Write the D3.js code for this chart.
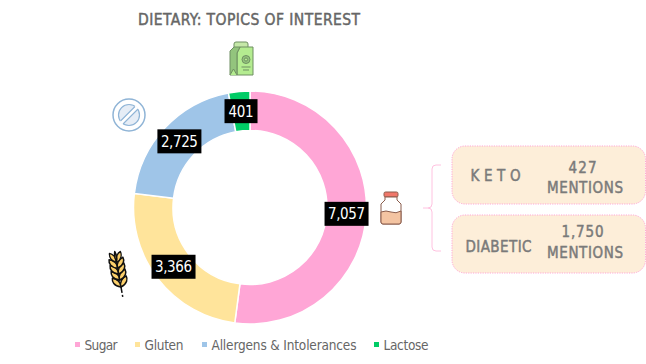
<!DOCTYPE html>
<html><head><meta charset="utf-8">
<script src="https://cdn.jsdelivr.net/npm/d3@7/dist/d3.min.js"></script>
<style>html,body{margin:0;padding:0;background:#fff}svg{display:block}text{font-family:"DejaVu Sans Condensed","DejaVu Sans",sans-serif;font-stretch:condensed}</style>
</head><body><svg id="c" width="646" height="364"></svg>
<script>
const categories = ["Sugar","Gluten","Allergens & Intolerances","Lactose"];
const seriesValues = [7057,3366,2725,401];
const sliceColors = ["#ffa6d6","#ffe49b","#9fc5e8","#00cc66"];
const legendX = [75,135,202,374];
const callouts = [
  {name:"K E T O", count:"427", y:146},
  {name:"DIABETIC", count:"1,750", y:215}
];
const svg = d3.select("#c");
const cx=250, cy=207.5, R=116.5, r=77;
const boxGrey="#7a7a7a";

svg.append("text").attr("x",249).attr("y",25).attr("text-anchor","middle")
  .attr("font-size",15.5).attr("fill","#666").attr("stroke","#666").attr("stroke-width",0.45)
  .attr("textLength",222).attr("lengthAdjust","spacing").text("DIETARY: TOPICS OF INTEREST");

const pie=d3.pie().sort(null).value(d=>d)(seriesValues);
const arc=d3.arc().innerRadius(r).outerRadius(R);
const g=svg.append("g").attr("transform",`translate(${cx},${cy})`);
g.selectAll("path").data(pie).join("path").attr("d",arc)
  .attr("fill",(d,i)=>sliceColors[i]).attr("stroke","#fff").attr("stroke-width",1.5);
const fmt=d3.format(",");
const lab=g.selectAll("g.l").data(pie).join("g").attr("class","l")
  .attr("transform",d=>`translate(${arc.centroid(d)})`);
lab.append("rect").attr("x",(d,i)=>i==3?-16.5:-22).attr("y",-12).attr("width",(d,i)=>i==3?33:44).attr("height",24).attr("fill","#000");
lab.append("text").attr("text-anchor","middle").attr("dy",5.5).attr("font-size",15).attr("fill","#fff")
  .attr("textLength",(d,i)=>i==3?25:37).attr("lengthAdjust","spacing").text(d=>fmt(d.value));

// legend
const lg=svg.append("g");
categories.forEach((c,i)=>{
  lg.append("rect").attr("x",legendX[i]).attr("y",342).attr("width",5).attr("height",5).attr("fill",sliceColors[i]);
  lg.append("text").attr("x",legendX[i]+9.5).attr("y",349.5).attr("font-size",13.5).attr("fill","#666")
    .attr("textLength",[33,39,145,45][i]).attr("lengthAdjust","spacing").text(c);
});

// bracket
svg.append("path").attr("d","M441,165H436Q432,165 432,169V204Q432,208 428,208H423M428,208Q432,208 432,212V247Q432,251 436,251H441")
  .attr("fill","none").attr("stroke","#ffc2e0").attr("stroke-width",1);

// boxes
const boxText=(x,y,len,t)=>svg.append("text").attr("x",x).attr("y",y).attr("text-anchor","middle")
  .attr("font-size",15).attr("fill",boxGrey).attr("stroke",boxGrey).attr("stroke-width",0.45)
  .attr("textLength",len).attr("lengthAdjust","spacing").text(t);
callouts.forEach((b,i)=>{
  svg.append("rect").attr("x",452).attr("y",b.y).attr("width",193.5).attr("height",58).attr("rx",13)
    .attr("fill","#fdeed9").attr("stroke","#ffa6d6").attr("stroke-width",1).attr("stroke-dasharray","1.2 1.2");
  boxText(i?498.5:495.5,b.y+(i?37:35),i?66:50,b.name);
  boxText(582.5,b.y+(i?22:27),i?42:28,b.count);
  boxText(585,b.y+(i?43:47),76,"MENTIONS");
});

// milk carton icon
const m=svg.append("g").attr("stroke","#6f8f62").attr("stroke-width",1).attr("stroke-linejoin","round");
m.append("path").attr("d","M234,48V44Q234,42 236,42H246Q248,42 248,44V48Z").attr("fill","#c5e8a8");
m.append("path").attr("d","M240,47H253V75H237V53Z").attr("fill","#b4ec90");
m.append("path").attr("d","M230,51L234,47H240L237,53V75H230Z").attr("fill","#93c47d");
m.append("path").attr("d","M230,75L233.5,69L237,75").attr("fill","#b4ec90");
m.append("circle").attr("cx",246).attr("cy",59.5).attr("r",4).attr("fill","#93c47d");
m.append("circle").attr("cx",246).attr("cy",59.5).attr("r",1.6).attr("fill","#b4ec90");
m.append("path").attr("d","M241.5,67H250.5M243,70H249").attr("fill","none");

// no-sign icon
const n=svg.append("g");
n.append("circle").attr("cx",129).attr("cy",115).attr("r",16).attr("fill","#fff").attr("stroke","#8fb4d6").attr("stroke-width",1.5);
n.append("circle").attr("cx",129).attr("cy",115).attr("r",10.5).attr("fill","#e6edf6").attr("stroke","#8fb4d6").attr("stroke-width",1.2);
n.append("line").attr("x1",121).attr("y1",123).attr("x2",137).attr("y2",107).attr("stroke","#fff").attr("stroke-width",4.5);
n.append("path").attr("d","M120.5,121L135,106.5M123,124L138,109").attr("stroke","#8fb4d6").attr("stroke-width",1.1);

// wheat icon
const w=svg.append("g").attr("transform","translate(121,287) rotate(-10)").attr("stroke","#111").attr("stroke-width",1.5).attr("stroke-linejoin","round");
w.append("path").attr("d","M0,0V10").attr("fill","none").attr("stroke-dasharray","6 2 2 1");
const grain="M0,0C-7,-2 -8,-7 -7,-10C-3,-9 1,-5 0,0Z";
[[0,0,1],[0,0,-1],[0,-7,1],[0,-7,-1],[0,-13,1],[0,-13,-1],[0,-19,1],[0,-19,-1],[0,-25,.8],[0,-25,-.8]].forEach(p=>{
  w.append("path").attr("d",grain).attr("transform",`translate(${p[0]},${p[1]}) scale(${p[2]},1)`).attr("fill","#fbcf6a");
});
w.append("path").attr("d","M0,-26C-2,-30 -1,-33 0,-36C1,-33 2,-30 0,-26Z").attr("fill","#fbcf6a");

// jar icon
const j=svg.append("g").attr("stroke","#8a5c4c").attr("stroke-width",1).attr("stroke-linejoin","round");
j.append("rect").attr("x",384).attr("y",192).attr("width",14).attr("height",5).attr("rx",1.5).attr("fill","#f0776a");
j.append("path").attr("d","M385,197H397V200L401,204V222Q401,224 399,224H383Q381,224 381,222V204L385,200Z").attr("fill","#fff");
j.append("path").attr("d","M381,212Q386,210 391,212T401,211V222Q401,224 399,224H383Q381,224 381,222Z").attr("fill","#f4c4a2");
</script></body></html>
